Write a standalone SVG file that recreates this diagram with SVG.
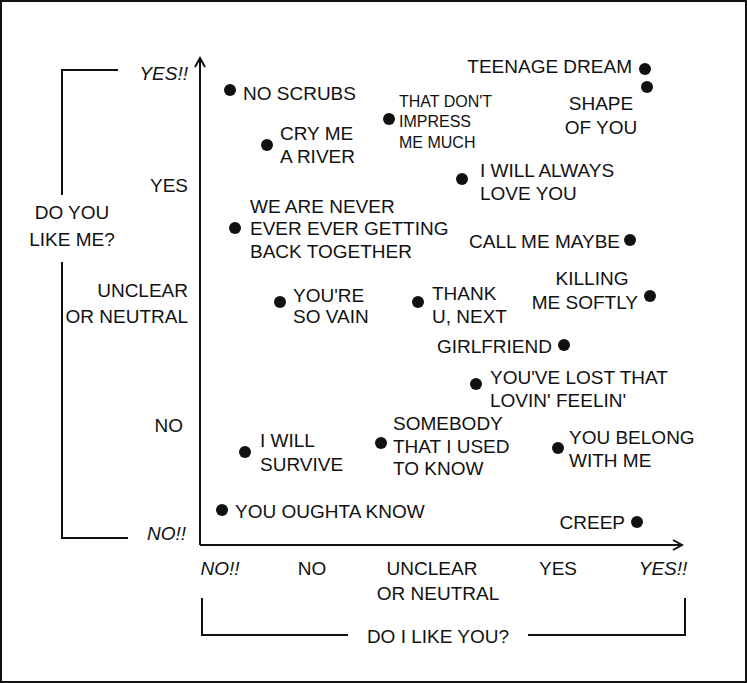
<svg xmlns="http://www.w3.org/2000/svg" width="747" height="683" viewBox="0 0 747 683">
<style>
text{font-family:"Liberation Sans",Arial,sans-serif;font-size:19px;fill:#111}
.s{font-size:16px}
.i{font-style:italic}
.e{text-anchor:end}
.m{text-anchor:middle}
.ax{stroke:#111;stroke-width:2;fill:none}
circle{fill:#111}
</style>
<defs><marker id="ar" markerWidth="12" markerHeight="12" refX="10" refY="6" orient="auto" markerUnits="userSpaceOnUse"><path d="M1,1 L10,6 L1,11" fill="none" stroke="#111" stroke-width="2"/></marker></defs>
<rect x="1" y="1" width="745" height="681" fill="#fff" stroke="#111" stroke-width="2"/>
<g id="connectors">
<path class="ax" d="M200,545 V58" marker-end="url(#ar)"/>
<path class="ax" d="M200,545 H682" marker-end="url(#ar)"/>
<path class="ax" d="M118,70 H62 V195 M62,262 V538 H128"/>
<path class="ax" d="M202,598 V635 H348 M528,635 H685 V598"/>
</g>
<g id="axis-labels">
<text x="188" y="80" class="e i">YES!!</text>
<text x="188" y="192" class="e">YES</text>
<text x="188" y="297" class="e">UNCLEAR</text>
<text x="188" y="323" class="e">OR NEUTRAL</text>
<text x="183" y="432" class="e">NO</text>
<text x="186" y="540" class="e i">NO!!</text>
<text x="72" y="219" class="m">DO YOU</text>
<text x="72" y="246" class="m">LIKE ME?</text>
<text x="220" y="575" class="m i">NO!!</text>
<text x="312" y="575" class="m">NO</text>
<text x="432" y="575" class="m">UNCLEAR</text>
<text x="438" y="600" class="m">OR NEUTRAL</text>
<text x="558" y="575" class="m">YES</text>
<text x="663" y="575" class="m i">YES!!</text>
<text x="438" y="643" class="m">DO I LIKE YOU?</text>
</g>
<g id="no-scrubs"><circle cx="230" cy="90" r="6"/><text x="243" y="100">NO SCRUBS</text></g>
<g id="cry-me-a-river"><circle cx="267" cy="145" r="6"/><text x="280" y="140">CRY ME</text><text x="280" y="163">A RIVER</text></g>
<g id="impress"><circle cx="389" cy="119" r="6"/><text x="399" y="107" class="s">THAT DON'T</text><text x="399" y="127" class="s">IMPRESS</text><text x="399" y="148" class="s">ME MUCH</text></g>
<g id="teenage-dream"><circle cx="645" cy="69" r="6"/><text x="632" y="73" class="e">TEENAGE DREAM</text></g>
<g id="shape-of-you"><circle cx="647" cy="87" r="6"/><text x="601" y="110" class="m">SHAPE</text><text x="601" y="134" class="m">OF YOU</text></g>
<g id="always-love-you"><circle cx="462" cy="179" r="6"/><text x="480" y="177">I WILL ALWAYS</text><text x="480" y="200">LOVE YOU</text></g>
<g id="never-ever"><circle cx="235" cy="228" r="6"/><text x="250" y="213">WE ARE NEVER</text><text x="250" y="235">EVER EVER GETTING</text><text x="250" y="258">BACK TOGETHER</text></g>
<g id="call-me-maybe"><circle cx="630" cy="240" r="6"/><text x="620" y="248" class="e">CALL ME MAYBE</text></g>
<g id="killing-me-softly"><circle cx="650" cy="296" r="6"/><text x="592" y="285" class="m">KILLING</text><text x="638" y="309" class="e">ME SOFTLY</text></g>
<g id="so-vain"><circle cx="280" cy="302" r="6"/><text x="293" y="302">YOU'RE</text><text x="293" y="323">SO VAIN</text></g>
<g id="thank-u-next"><circle cx="418" cy="302" r="6"/><text x="432" y="300">THANK</text><text x="432" y="323">U, NEXT</text></g>
<g id="girlfriend"><circle cx="564" cy="345" r="6"/><text x="552" y="353" class="e">GIRLFRIEND</text></g>
<g id="lovin-feelin"><circle cx="476" cy="384" r="6"/><text x="490" y="384">YOU'VE LOST THAT</text><text x="490" y="407">LOVIN' FEELIN'</text></g>
<g id="somebody"><circle cx="381" cy="443" r="6"/><text x="393" y="430">SOMEBODY</text><text x="393" y="453">THAT I USED</text><text x="393" y="475">TO KNOW</text></g>
<g id="i-will-survive"><circle cx="245" cy="452" r="6"/><text x="260" y="447">I WILL</text><text x="260" y="471">SURVIVE</text></g>
<g id="belong-with-me"><circle cx="558" cy="448" r="6"/><text x="569" y="444">YOU BELONG</text><text x="569" y="467">WITH ME</text></g>
<g id="oughta-know"><circle cx="222" cy="510" r="6"/><text x="235" y="518">YOU OUGHTA KNOW</text></g>
<g id="creep"><circle cx="637" cy="522" r="6"/><text x="625" y="529" class="e">CREEP</text></g>
</svg>
